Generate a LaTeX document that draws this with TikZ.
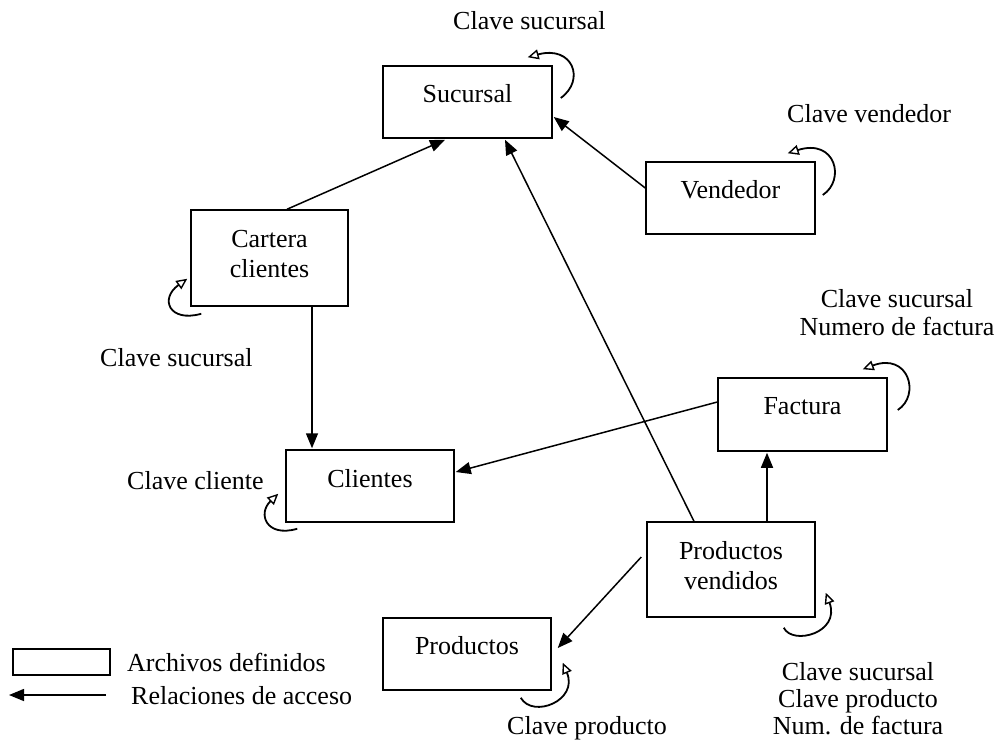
\documentclass[tikz,border=0pt]{standalone}
\usepackage{fontspec}
\setmainfont{Liberation Serif}
\usetikzlibrary{arrows.meta,calc}
\begin{document}
\begin{tikzpicture}[x=1pt,y=-1pt,
  box/.style={draw, line width=1.5pt, inner sep=0pt},
  txt/.style={font=\fontsize{26}{30}\selectfont, inner sep=0pt, anchor=base},
  lbl/.style={font=\fontsize{26}{30}\selectfont, inner sep=0pt, anchor=base west},
  rel/.style={line width=1.5pt, -{Triangle[length=15pt,width=12pt]}},
  selfk/.style={line width=1.8pt, -{Triangle[open,fill=white,length=11pt,width=10pt,line width=1.4pt]}}]
\useasboundingbox (0,0) rectangle (1003,740);

% boxes
\node[box, minimum width=169pt, minimum height=72pt] (suc) at (467.5,102) {};
\node[box, minimum width=169pt, minimum height=72pt] (vend) at (730.5,198) {};
\node[box, minimum width=157pt, minimum height=96pt] (cart) at (269.5,258) {};
\node[box, minimum width=168pt, minimum height=72pt] (cli) at (370,486) {};
\node[box, minimum width=169pt, minimum height=73pt] (fac) at (802.5,414.5) {};
\node[box, minimum width=168pt, minimum height=95pt] (pv) at (731,569.5) {};
\node[box, minimum width=168pt, minimum height=72pt] (prod) at (467,654) {};
\node[box, minimum width=97pt, minimum height=26pt] (lgbox) at (61.5,662) {};

% box texts
\node[txt] (suct) at (467.5,102) {Sucursal};
\node[txt] (vendt) at (730.5,198) {Vendedor};
\node[txt] (cartt1) at (269.5,247) {Cartera};
\node[txt] (cartt2) at (269.5,277) {clientes};
\node[txt] (clit) at (370,487) {Clientes};
\node[txt] (fact) at (802.5,414) {Factura};
\node[txt] (pvt1) at (731,559) {Productos};
\node[txt] (pvt2) at (731,589) {vendidos};
\node[txt] (prodt) at (467,654) {Productos};

% access relations
\draw[rel] ($(cart.north)+(17.5,0)$) -- ($(suc.south)+(-22.5,1)$);
\draw[rel] ($(pv.north)+(-37,0)$) -- ($(suc.south)+(37.5,1)$);
\draw[rel] ($(vend.west)+(0,-10)$) -- ($(suc.east)+(1,15)$);
\draw[rel] ($(cart.south)+(42.5,0)$) -- ($(cli.north)+(-58,-1)$);
\draw[rel] ($(fac.west)+(0,-12.5)$) -- ($(cli.east)+(1,-14)$);
\draw[rel] ($(pv.north)+(36,0)$) -- ($(fac.south)+(-35.5,1)$);
\draw[rel] ($(pv.west)+(-5,-12.5)$) -- ($(prod.east)+(6,-6)$);

% key loops
\draw[selfk] ($(suc.east)+(8,-4)$) .. controls ($(suc.east)+(33,-22)$) and ($(suc.east)+(20,-57)$) .. ($(suc.north east)+(-25,-8)$);
\draw[selfk] ($(vend.east)+(7,-3)$) .. controls ($(vend.east)+(30,-18)$) and ($(vend.east)+(20,-60)$) .. ($(vend.north east)+(-28,-8)$);
\draw[selfk] ($(fac.east)+(10,-4.5)$) .. controls ($(fac.east)+(33,-19.5)$) and ($(fac.east)+(21,-62.5)$) .. ($(fac.north east)+(-25,-8)$);
\draw[selfk] ($(cart.south west)+(11,7)$) .. controls ($(cart.south west)+(-21,16)$) and ($(cart.south west)+(-31,-8)$) .. ($(cart.south west)+(-3,-28)$);
\draw[selfk] ($(cli.south west)+(12,6)$) .. controls ($(cli.south west)+(-19,15)$) and ($(cli.south west)+(-28,-9)$) .. ($(cli.south west)+(-7,-29)$);
\draw[selfk] ($(pv.south east)+(-32,10)$) .. controls ($(pv.south east)+(-23,28)$) and ($(pv.south east)+(25,15)$) .. ($(pv.south east)+(10,-25)$);
\draw[selfk] ($(prod.south east)+(-31,7)$) .. controls ($(prod.south east)+(-19,28)$) and ($(prod.south east)+(27,10)$) .. ($(prod.south east)+(11,-28)$);

% key labels
\node[lbl] (lsuc) at (453,29) {Clave sucursal};
\node[lbl] (lvend) at (787,122) {Clave vendedor};
\node[lbl] (lcart) at (100,366) {Clave sucursal};
\node[lbl] (lcli) at (127,489) {Clave cliente};
\node[txt] (lfac1) at (897,307) {Clave sucursal};
\node[txt] (lfac2) at (897,335) {Numero de factura};
\node[txt] (lpv1) at (858,680) {Clave sucursal};
\node[txt] (lpv2) at (858,707) {Clave producto};
\node[txt] (lpv3) at (858,734) {Num. de factura};
\node[lbl] (lprod) at (507,734) {Clave producto};

% legend
\node[lbl] (lgt1) at (127,671) {Archivos definidos};
\coordinate (lgtail) at (106,695);
\coordinate (lghead) at (9,695);
\draw[rel] (lgtail) -- (lghead);
\node[lbl] (lgt2) at (131,704) {Relaciones de acceso};
\end{tikzpicture}
\end{document}
